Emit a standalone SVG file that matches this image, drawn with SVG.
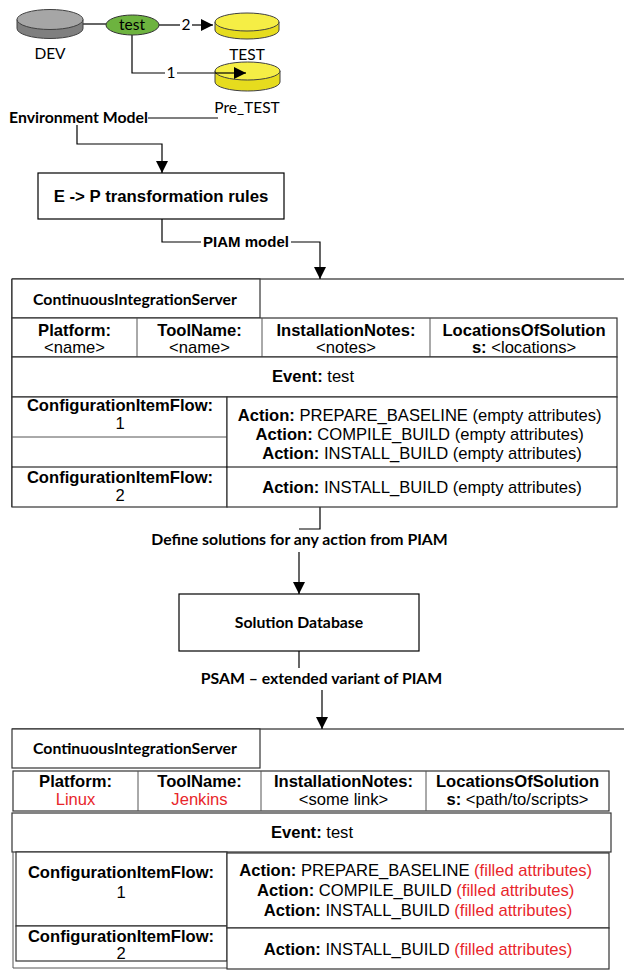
<svg xmlns="http://www.w3.org/2000/svg" width="624" height="971" viewBox="0 0 624 971">
<style>
.cal{font-family:Lato,"Liberation Sans",sans-serif;font-size:15.5px;fill:#000}
.calb{font-family:Lato,"Liberation Sans",sans-serif;font-size:15.8px;font-weight:bold;fill:#000}
.ar{font-family:"Liberation Sans",Arial,sans-serif;font-size:16.6px;fill:#000}
.b{font-weight:bold}
.red{fill:#e8262b}
.ln{stroke:#000;stroke-width:1.2;fill:none}
.cell{stroke:#333;stroke-width:1.2;fill:#fff}
.thin{stroke:#555;stroke-width:1;fill:none}
</style>
<defs>
<marker id="ahb" viewBox="0 0 12 12" refX="12" refY="6" markerWidth="12" markerHeight="12" markerUnits="userSpaceOnUse" orient="auto">
<path d="M0,0 L12,6 L0,12 Z" fill="#000"/>
</marker>
</defs>

<g id="connectors">
<line class="ln" x1="82" y1="24" x2="106" y2="24"/>
<line class="ln" x1="159" y1="25" x2="180" y2="25"/>
<line class="ln" x1="192" y1="25" x2="213" y2="25" marker-end="url(#ahb)"/>
<path class="ln" d="M132,35 V73 H165"/>
<line class="ln" x1="177" y1="73" x2="246" y2="73" marker-end="url(#ahb)"/>
<line class="ln" x1="148" y1="118" x2="218" y2="118"/>
<path class="ln" d="M77,125 V144 H162 V173" marker-end="url(#ahb)"/>
<path class="ln" d="M162,219 V242 H201"/>
<path class="ln" d="M291,242 H320 V279" marker-end="url(#ahb)"/>
<path class="ln" d="M320,507 V529 H299"/>
<line class="ln" x1="299" y1="552" x2="299" y2="594" marker-end="url(#ahb)"/>
<line class="ln" x1="299" y1="651" x2="299" y2="668"/>
<line class="ln" x1="322" y1="690" x2="322" y2="729" marker-end="url(#ahb)"/>
</g>

<g id="dev">
<path d="M17,19.5 V28.5 A33,10 0 0 0 83,28.5 V19.5 Z" fill="#7f7f7f" stroke="#404040" stroke-width="1"/>
<ellipse cx="50" cy="19.5" rx="33" ry="10" fill="#a6a6a6" stroke="#404040" stroke-width="1"/>
<text class="cal" x="50" y="59" text-anchor="middle">DEV</text>
</g>

<g id="test-event">
<ellipse cx="132.5" cy="25" rx="26.5" ry="10" fill="#6db33f" stroke="#333" stroke-width="1"/>
<text class="cal" x="132" y="30" text-anchor="middle">test</text>
</g>

<g id="label-2"><text class="cal" x="186" y="30" text-anchor="middle">2</text></g>
<g id="label-1"><text class="cal" x="171" y="78" text-anchor="middle">1</text></g>

<g id="test-env">
<path d="M215,22 V30 A32,9 0 0 0 279,30 V22 Z" fill="#e6dc1e" stroke="#404040" stroke-width="1"/>
<ellipse cx="247" cy="22" rx="32" ry="9" fill="#f5ee45" stroke="#404040" stroke-width="1"/>
<text class="cal" x="247" y="60" text-anchor="middle">TEST</text>
</g>

<g id="pretest-env">
<path d="M215,71 V82 A32.5,9 0 0 0 280,82 V71 Z" fill="#e6dc1e" stroke="#404040" stroke-width="1"/>
<ellipse cx="247.5" cy="71" rx="32.5" ry="9" fill="#f5ee45" stroke="#404040" stroke-width="1"/>
<line class="ln" x1="215" y1="73" x2="246" y2="73" marker-end="url(#ahb)"/>
<text class="cal" x="247" y="113" text-anchor="middle">Pre_TEST</text>
</g>

<g id="environment-model"><text class="calb" x="9" y="123">Environment Model</text></g>

<g id="transformation-rules">
<rect x="38" y="173" width="246" height="46" fill="#fff" stroke="#000" stroke-width="1.2"/>
<text class="ar b" x="161" y="202" text-anchor="middle" style="font-size:16.8px">E -&gt; P transformation rules</text>
</g>

<g id="piam-label"><text class="ar b" x="246" y="247" text-anchor="middle" style="font-size:15px">PIAM model</text></g>

<g id="piam-table">
<line class="ln" x1="12" y1="279" x2="624" y2="279"/>
<line class="ln" x1="12" y1="279" x2="12" y2="507"/>
<rect class="cell" x="12" y="279" width="248" height="39"/>
<text class="calb" x="135" y="305" text-anchor="middle">ContinuousIntegrationServer</text>
<rect class="cell" x="12" y="318" width="605" height="39"/>
<line class="thin" x1="137" y1="318" x2="137" y2="357"/>
<line class="thin" x1="262" y1="318" x2="262" y2="357"/>
<line class="thin" x1="430" y1="318" x2="430" y2="357"/>
<text class="ar" text-anchor="middle"><tspan class="b" x="74.5" y="335.5">Platform:</tspan><tspan x="74.5" y="353">&lt;name&gt;</tspan></text>
<text class="ar" text-anchor="middle"><tspan class="b" x="199.5" y="335.5">ToolName:</tspan><tspan x="199.5" y="353">&lt;name&gt;</tspan></text>
<text class="ar" text-anchor="middle"><tspan class="b" x="346" y="335.5">InstallationNotes:</tspan><tspan x="346" y="353">&lt;notes&gt;</tspan></text>
<text class="ar" text-anchor="middle"><tspan class="b" x="524" y="335.5">LocationsOfSolution</tspan><tspan x="524" y="353"><tspan class="b">s:</tspan> &lt;locations&gt;</tspan></text>
<rect class="cell" x="12" y="357" width="605" height="40"/>
<text class="ar" x="313" y="382" text-anchor="middle"><tspan class="b">Event:</tspan> test</text>
<rect class="cell" x="12" y="397" width="215" height="110"/>
<line class="thin" x1="12" y1="437" x2="227" y2="437"/>
<rect class="cell" x="227" y="397" width="390" height="110" fill="none"/>
<line class="ln" x1="12" y1="467" x2="617" y2="467"/>
<text class="ar" text-anchor="middle"><tspan class="b" x="120" y="411">ConfigurationItemFlow:</tspan><tspan x="120" y="428.5">1</tspan></text>
<text class="ar" text-anchor="middle"><tspan class="b" x="120" y="483">ConfigurationItemFlow:</tspan><tspan x="120" y="500.5">2</tspan></text>
<text class="ar" text-anchor="middle">
<tspan x="422" y="421"><tspan class="b">Action:</tspan> PREPARE_BASELINE (empty attributes)</tspan>
<tspan x="422" y="440"><tspan class="b">Action:</tspan> COMPILE_BUILD (empty attributes)</tspan>
<tspan x="422" y="459"><tspan class="b">Action:</tspan> INSTALL_BUILD (empty attributes)</tspan>
</text>
<text class="ar" x="422" y="493" text-anchor="middle"><tspan class="b">Action:</tspan> INSTALL_BUILD (empty attributes)</text>
</g>

<g id="define-label"><text class="calb" x="299.5" y="545" text-anchor="middle">Define solutions for any action from PIAM</text></g>

<g id="solution-database">
<rect x="179" y="594" width="240" height="57" fill="#fff" stroke="#000" stroke-width="1.2"/>
<text class="calb" x="299" y="628" text-anchor="middle">Solution Database</text>
</g>

<g id="psam-label"><text class="calb" x="321.5" y="684" text-anchor="middle">PSAM – extended variant of PIAM</text></g>

<g id="psam-table">
<line class="ln" x1="12" y1="729" x2="624" y2="729"/>
<rect class="cell" x="12" y="729" width="248" height="39"/>
<text class="calb" x="135" y="754" text-anchor="middle">ContinuousIntegrationServer</text>
<rect class="cell" x="13" y="771" width="596" height="40"/>
<line class="thin" x1="138" y1="771" x2="138" y2="811"/>
<line class="thin" x1="261" y1="771" x2="261" y2="811"/>
<line class="thin" x1="426" y1="771" x2="426" y2="811"/>
<text class="ar" text-anchor="middle"><tspan class="b" x="75.5" y="786.5">Platform:</tspan><tspan class="red" x="75.5" y="804.5">Linux</tspan></text>
<text class="ar" text-anchor="middle"><tspan class="b" x="199.5" y="786.5">ToolName:</tspan><tspan class="red" x="199.5" y="804.5">Jenkins</tspan></text>
<text class="ar" text-anchor="middle"><tspan class="b" x="343.5" y="786.5">InstallationNotes:</tspan><tspan x="343.5" y="804.5">&lt;some link&gt;</tspan></text>
<text class="ar" text-anchor="middle"><tspan class="b" x="517.5" y="786.5">LocationsOfSolution</tspan><tspan x="517.5" y="804.5"><tspan class="b">s:</tspan> &lt;path/to/scripts&gt;</tspan></text>
<rect class="cell" x="12" y="813" width="599" height="39"/>
<text class="ar" x="312" y="838" text-anchor="middle"><tspan class="b">Event:</tspan> test</text>
<path class="thin" d="M13,852 V968 H227"/>
<rect class="cell" x="16" y="852" width="211" height="74"/>
<rect class="cell" x="16" y="926" width="211" height="35"/>
<text class="ar" text-anchor="middle"><tspan class="b" x="121" y="878">ConfigurationItemFlow:</tspan><tspan x="121" y="898">1</tspan></text>
<text class="ar" text-anchor="middle"><tspan class="b" x="121" y="941.5">ConfigurationItemFlow:</tspan><tspan x="121" y="959">2</tspan></text>
<rect class="cell" x="227" y="853" width="382" height="75"/>
<rect class="cell" x="227" y="928" width="382" height="41"/>
<text class="ar" text-anchor="middle">
<tspan x="418" y="876"><tspan class="b">Action:</tspan> PREPARE_BASELINE <tspan class="red">(filled attributes)</tspan></tspan>
<tspan x="418" y="896"><tspan class="b">Action:</tspan> COMPILE_BUILD <tspan class="red">(filled attributes)</tspan></tspan>
<tspan x="418" y="916"><tspan class="b">Action:</tspan> INSTALL_BUILD <tspan class="red">(filled attributes)</tspan></tspan>
</text>
<text class="ar" x="418" y="955" text-anchor="middle"><tspan class="b">Action:</tspan> INSTALL_BUILD <tspan class="red">(filled attributes)</tspan></text>
</g>
</svg>
